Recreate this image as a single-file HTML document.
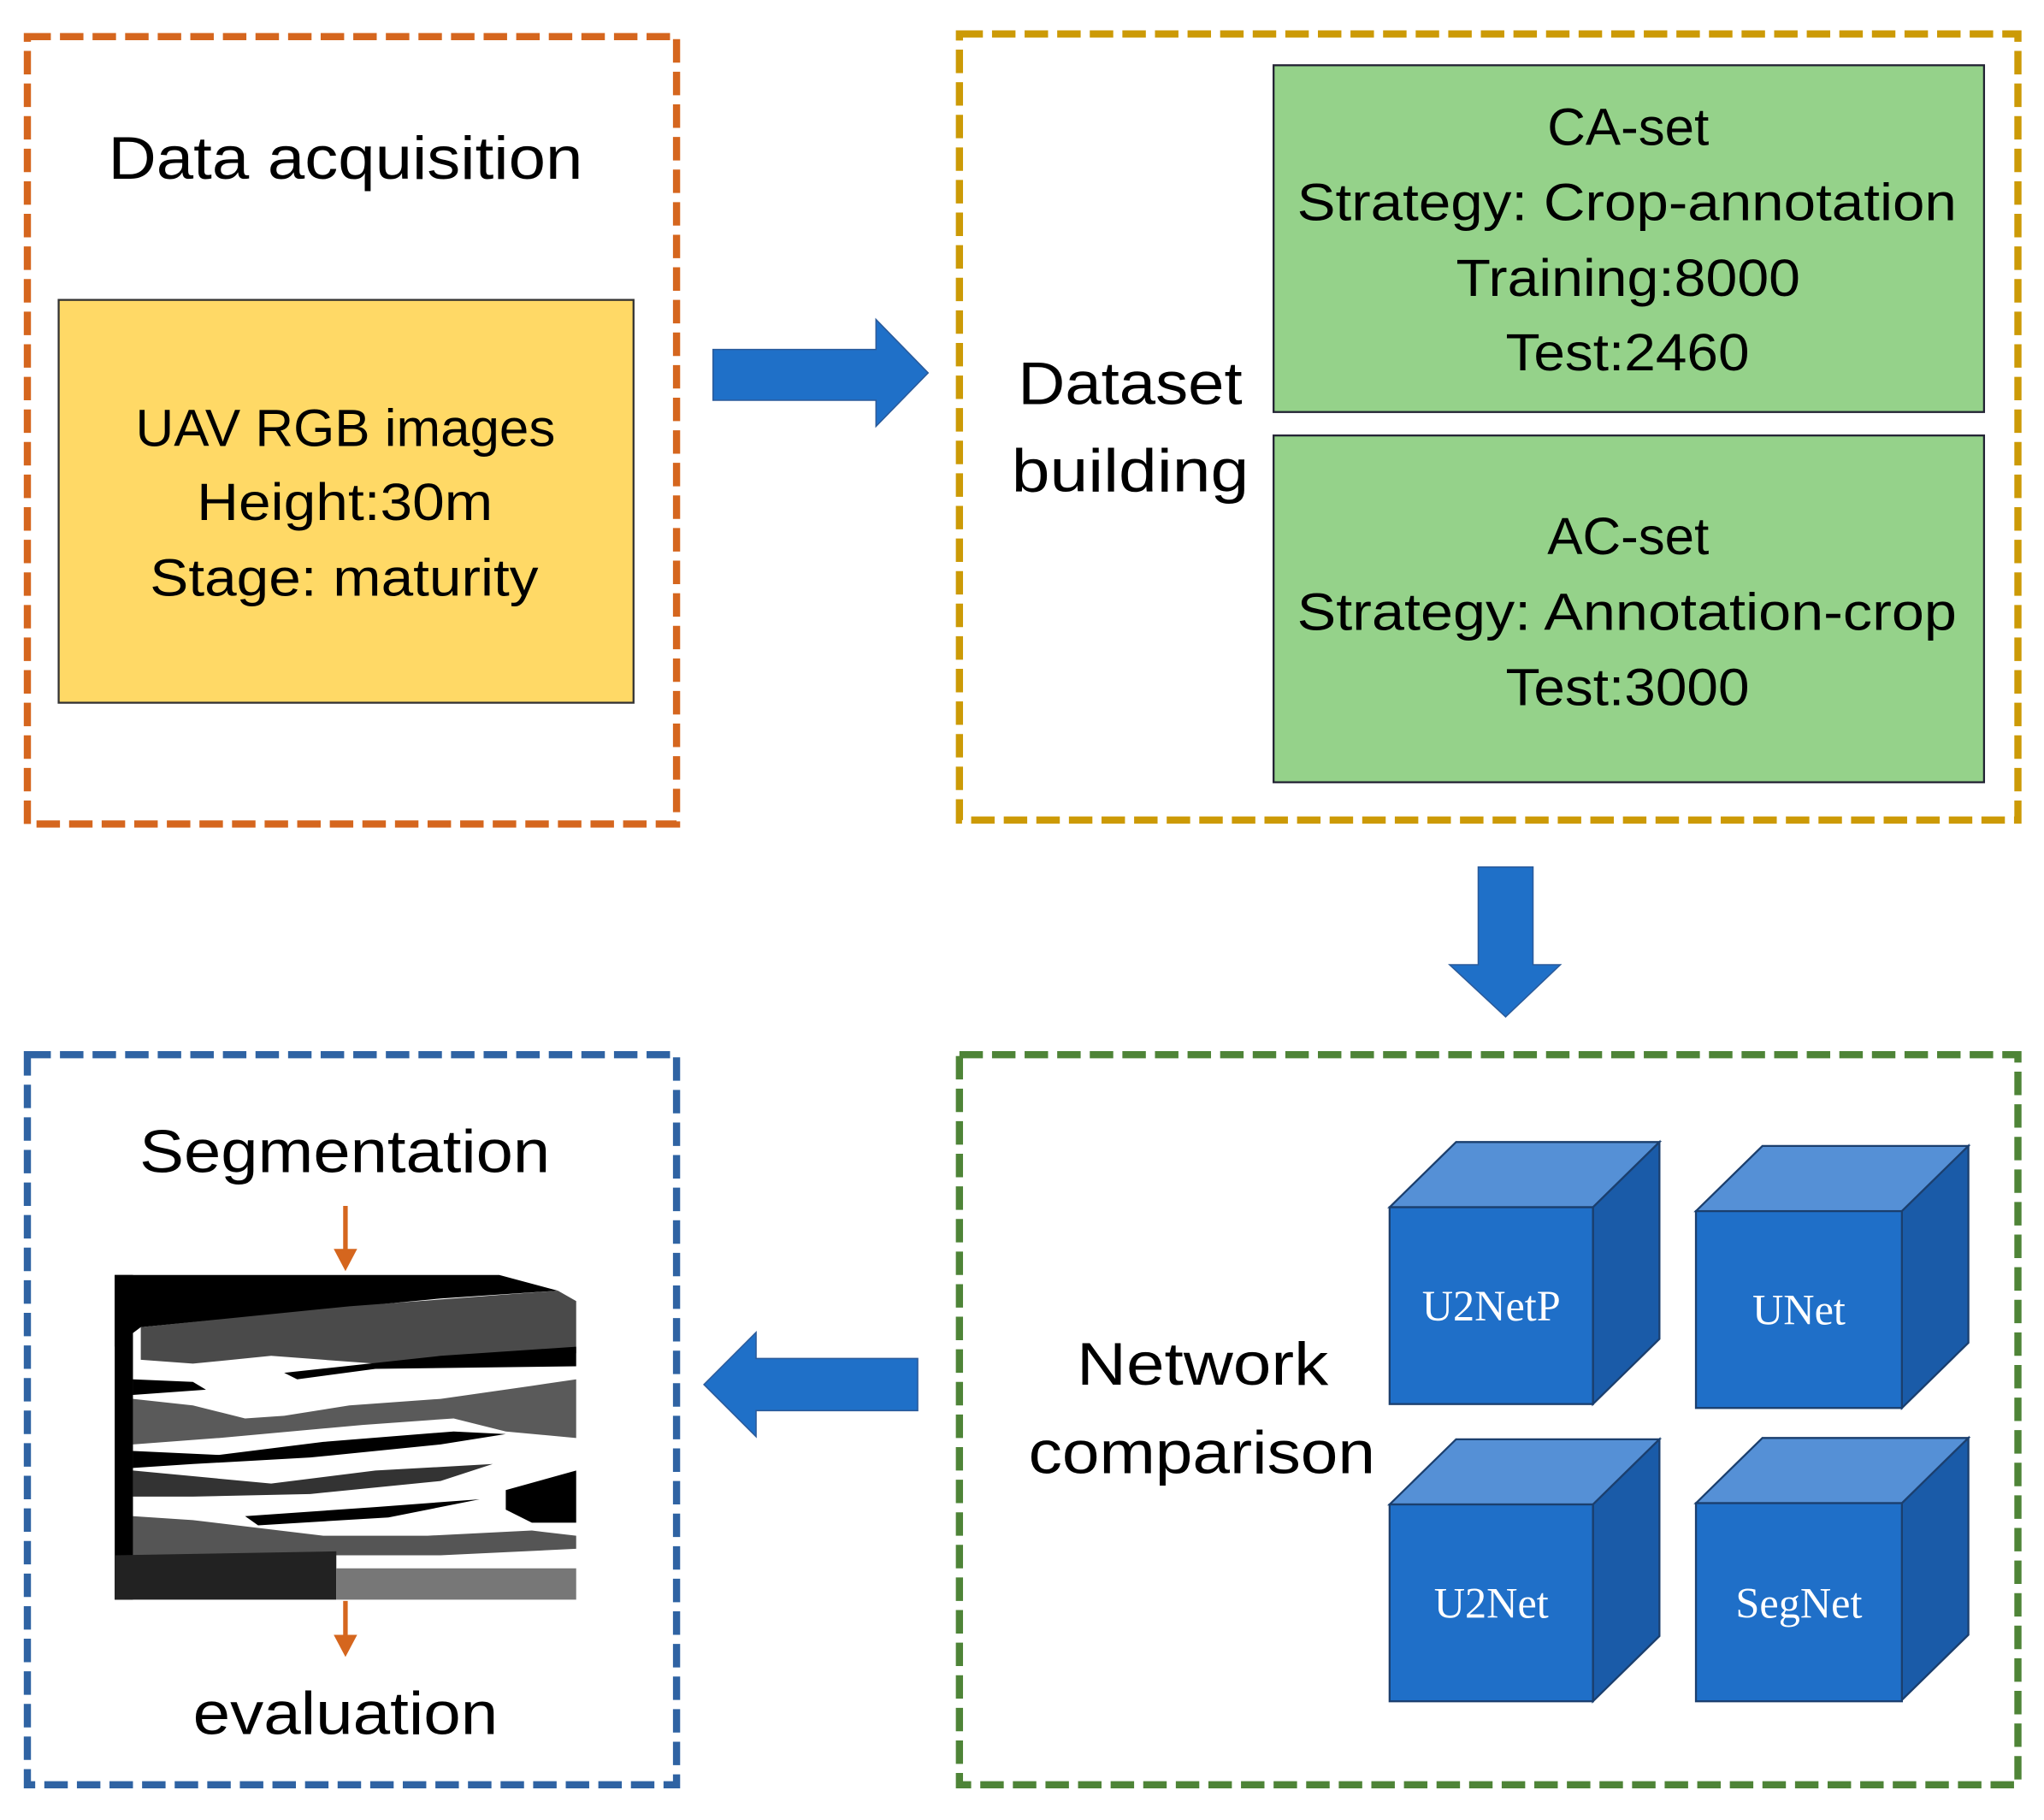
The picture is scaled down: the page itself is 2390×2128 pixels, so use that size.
<!DOCTYPE html>
<html><head><meta charset="utf-8"><style>
html,body{margin:0;padding:0;background:#fff;}
svg{display:block;}
text{font-family:"Liberation Sans",sans-serif;fill:#000;}
.c{font-family:"Liberation Serif",serif;fill:#fff;font-size:33px;}
</style></head><body>
<svg width="2390" height="2128" viewBox="0 0 1568 1396" xmlns="http://www.w3.org/2000/svg">
<rect width="1568" height="1396" fill="#fff"/>
<g fill="none" stroke-width="5.5" stroke-dasharray="18 7">
<rect x="21" y="28" width="498" height="604" stroke="#D5661E"/>
<rect x="736" y="26" width="812" height="603" stroke="#CC9A06"/>
<rect x="736" y="809" width="812" height="560" stroke="#4E8437"/>
<rect x="21" y="809" width="498" height="560" stroke="#2F63A3"/>
</g>
<g lengthAdjust="spacingAndGlyphs">
<text x="83" y="137" font-size="46" textLength="364" lengthAdjust="spacingAndGlyphs">Data acquisition</text>
</g>
<rect x="45" y="230" width="441" height="309" fill="#FFD966" stroke="#333" stroke-width="1.5"/>
<g font-size="40">
<text x="104" y="342" textLength="322" lengthAdjust="spacingAndGlyphs">UAV RGB images</text>
<text x="151" y="399" textLength="227" lengthAdjust="spacingAndGlyphs">Height:30m</text>
<text x="115" y="457" textLength="298" lengthAdjust="spacingAndGlyphs">Stage: maturity</text>
</g>
<polygon points="547,268 672,268 672,245 712,286 672,327 672,307 547,307" fill="#1F70C8" stroke="#2A5A9A" stroke-width="1"/>
<rect x="977" y="50" width="545" height="266" fill="#95D28A" stroke="#223" stroke-width="1.5"/>
<rect x="977" y="334" width="545" height="266" fill="#95D28A" stroke="#223" stroke-width="1.5"/>
<g font-size="40">
<text x="1187" y="111" textLength="124" lengthAdjust="spacingAndGlyphs">CA-set</text>
<text x="995" y="169" textLength="506" lengthAdjust="spacingAndGlyphs">Strategy: Crop-annotation</text>
<text x="1117" y="227" textLength="264" lengthAdjust="spacingAndGlyphs">Training:8000</text>
<text x="1155" y="284" textLength="187" lengthAdjust="spacingAndGlyphs">Test:2460</text>
<text x="1187" y="425" textLength="124" lengthAdjust="spacingAndGlyphs">AC-set</text>
<text x="995" y="483" textLength="506" lengthAdjust="spacingAndGlyphs">Strategy: Annotation-crop</text>
<text x="1155" y="541" textLength="187" lengthAdjust="spacingAndGlyphs">Test:3000</text>
<text x="781" y="310" font-size="46" textLength="172" lengthAdjust="spacingAndGlyphs">Dataset</text>
<text x="776" y="377" font-size="46" textLength="182" lengthAdjust="spacingAndGlyphs">building</text>
</g>
<polygon points="1134,665 1176,665 1176,740 1197,740 1155,780 1112,740 1134,740" fill="#1F70C8" stroke="#2A5A9A" stroke-width="1"/>
<polygon points="704,1042 580,1042 580,1022 540,1062 580,1102 580,1082 704,1082" fill="#1F70C8" stroke="#2A5A9A" stroke-width="1"/>
<text x="826" y="1062" font-size="46" textLength="193" lengthAdjust="spacingAndGlyphs">Network</text>
<text x="789" y="1130" font-size="46" textLength="266" lengthAdjust="spacingAndGlyphs">comparison</text>
<g stroke="#1B3F6E" stroke-width="1.5">
<g transform="translate(1066,926)">
<polygon points="0,0 51,-50 207,-50 156,0" fill="#5590D6"/>
<polygon points="156,0 207,-50 207,101 156,151" fill="#1A5BA8"/>
<rect x="0" y="0" width="156" height="151" fill="#1F6FC8"/>
</g>
<g transform="translate(1301,929)">
<polygon points="0,0 51,-50 209,-50 158,0" fill="#5590D6"/>
<polygon points="158,0 209,-50 209,101 158,151" fill="#1A5BA8"/>
<rect x="0" y="0" width="158" height="151" fill="#1F6FC8"/>
</g>
<g transform="translate(1066,1154)">
<polygon points="0,0 51,-50 207,-50 156,0" fill="#5590D6"/>
<polygon points="156,0 207,-50 207,101 156,151" fill="#1A5BA8"/>
<rect x="0" y="0" width="156" height="151" fill="#1F6FC8"/>
</g>
<g transform="translate(1301,1153)">
<polygon points="0,0 51,-50 209,-50 158,0" fill="#5590D6"/>
<polygon points="158,0 209,-50 209,101 158,151" fill="#1A5BA8"/>
<rect x="0" y="0" width="158" height="152" fill="#1F6FC8"/>
</g>
</g>
<g text-anchor="middle">
<text class="c" x="1144" y="1013">U2NetP</text>
<text class="c" x="1380" y="1016">UNet</text>
<text class="c" x="1144" y="1241">U2Net</text>
<text class="c" x="1380" y="1241">SegNet</text>
</g>
<text x="107" y="899" font-size="46" textLength="315" lengthAdjust="spacingAndGlyphs">Segmentation</text>
<text x="148" y="1330" font-size="46" textLength="234" lengthAdjust="spacingAndGlyphs">evaluation</text>
<g stroke="#D5661E" stroke-width="3.5" fill="#D5661E">
<line x1="265" y1="925" x2="265" y2="962"/>
<polygon points="256,958 274,958 265,975" stroke="none"/>
<line x1="265" y1="1228" x2="265" y2="1258"/>
<polygon points="256,1254 274,1254 265,1271" stroke="none"/>
</g>
<g transform="translate(88,978)" fill="#000">
<rect x="0" y="0" width="354" height="249" fill="#fff"/>
<polygon points="0,0 295,0 340,12 250,18 20,40 0,55"/>
<polygon points="0,0 14,0 14,249 0,249"/>
<polygon points="20,40 180,24 340,12 354,20 354,60 300,68 200,68 120,62 60,68 20,65" fill="#4a4a4a"/>
<polygon points="130,75 250,62 354,55 354,70 200,72 140,80"/>
<polygon points="14,80 60,82 70,88 14,92" />
<polygon points="14,95 60,100 100,110 130,108 180,100 250,95 320,85 354,80 354,125 300,120 260,110 190,115 80,125 14,130" fill="#5a5a5a"/>
<polygon points="14,135 80,138 160,128 260,120 300,122 250,130 150,140 60,145 14,148"/>
<polygon points="14,150 120,160 200,150 290,145 250,158 150,168 60,170 14,170" fill="#333"/>
<polygon points="100,185 200,178 280,172 210,186 110,192"/>
<polygon points="300,165 354,150 354,190 320,190 300,180" />
<polygon points="14,185 60,188 160,200 240,200 320,196 354,200 354,210 250,215 160,215 14,215" fill="#555"/>
<polygon points="0,215 170,212 170,249 0,249" fill="#222"/>
<polygon points="170,225 354,225 354,249 170,249" fill="#777"/>
</g>
</svg>
</body></html>
